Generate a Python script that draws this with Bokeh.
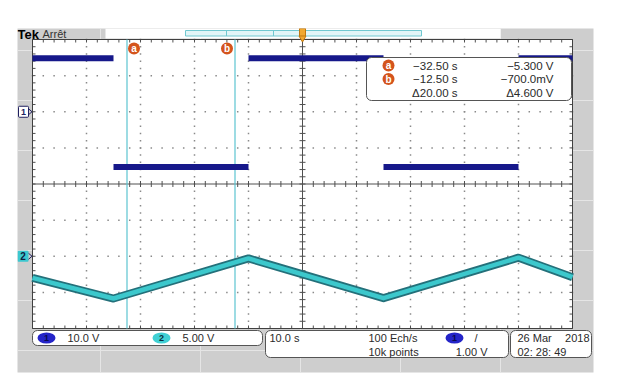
import numpy as np
from bokeh.plotting import figure
from bokeh.models import Range1d, Label, BoxAnnotation
from bokeh.embed import file_html
from bokeh.resources import INLINE

# ---------------- data ----------------
ch1_t_start = [-50, -35, -10, 15, 40]          # s
ch1_t_end = [-35, -10, 15, 40, 50]             # s
ch1_volts = [14.8, -15.3, 14.8, -15.3, 14.8]   # V

ch2_t = [-50, -35, -10, 15, 40, 50]            # s
ch2_volts = [-3.0, -5.85, -0.3, -5.8, -0.2, -2.9]  # V

cursor_t = [-32.5, -12.5]
cursor_names = ["a", "b"]
cursor_times = ["\u221232.50 s", "\u221212.50 s", "\u039420.00 s"]
cursor_values = ["\u22125.300 V", "\u2212700.0mV", "\u03944.600 V"]

ch1_scale, ch2_scale = 10.0, 5.0      # V/div
ch1_offset, ch2_offset = 2.0, -2.0    # div
t_half = 50.0                          # s (10 s/div, 10 div)
n_div_v = 4.0

# ---------------- screen geometry (image px) ----------------
FR_L, FR_R, FR_T, FR_B = 17, 593, 28, 372
GR_L, GR_R, GR_T, GR_B = 32, 572, 39, 328
W, H = 612, 384
px_s = (GR_R - GR_L) / (2 * t_half)
px_d = (GR_B - GR_T) / (2 * n_div_v)
t_start = -t_half - (GR_L - FR_L) / px_s
t_end = t_half + (FR_R - GR_R) / px_s
d_top = n_div_v + (GR_T - FR_T) / px_d
d_bot = -n_div_v - (FR_B - GR_B) / px_d

GRAY = "#cecece"
NAVY = "#16188a"
CYAN = "#3cc8cc"
TEAL = "#24707a"
CURS = "#5cc4d0"
ORANGE = "#d4541c"
TXT = "#2a2a2a"
FONT = "Liberation Sans"

p = figure(width=W, height=H,
           x_range=Range1d(FR_L, FR_R), y_range=Range1d(FR_B, FR_T),
           x_axis_location=None, y_axis_location=None,
           toolbar_location=None, output_backend="svg",
           min_border_left=FR_L, min_border_right=W - FR_R,
           min_border_top=FR_T, min_border_bottom=H - FR_B,
           background_fill_color=GRAY, border_fill_color="white",
           outline_line_color=None)
p.extra_x_ranges = {"time": Range1d(t_start, t_end)}
p.extra_y_ranges = {
    "div": Range1d(d_bot, d_top),
    "ch1": Range1d((d_bot - ch1_offset) * ch1_scale, (d_top - ch1_offset) * ch1_scale),
    "ch2": Range1d((d_bot - ch2_offset) * ch2_scale, (d_top - ch2_offset) * ch2_scale),
}
TD = dict(x_range_name="time", y_range_name="div")

# graticule background
p.quad(left=-t_half, right=t_half, bottom=-n_div_v, top=n_div_v,
       fill_color="white", line_color=None, **TD)

# top bar
p.quad(left=105, right=500, top=28, bottom=38, fill_color="white", line_color=None)
p.quad(left=185, right=421, top=30, bottom=35.5, fill_color="#e2f5f7",
       line_color="#70c8d0", line_width=1)
p.segment(x0=[226, 273], x1=[226, 273], y0=[30, 30], y1=[35.5, 35.5],
          line_color="#70c8d0", line_width=1)

# dotted grid
vt = [t for t in np.arange(-t_half + 10, t_half, 10) if abs(t) > 1e-6]
dd = np.arange(-n_div_v, n_div_v + 1e-6, 0.2)
hd = [d for d in np.arange(-n_div_v + 1, n_div_v, 1) if abs(d) > 1e-6]
tt = np.arange(-t_half, t_half + 1e-6, 2)
gx = np.concatenate([np.repeat(vt, len(dd)), np.tile(tt, len(hd))])
gy = np.concatenate([np.tile(dd, len(vt)), np.repeat(hd, len(tt))])
p.scatter(gx, gy, marker="square", size=1.5, color="#8a8a8a", line_color=None, **TD)

# ticks
tl_t = 3 / px_s
tl_d = 3 / px_d
x0 = np.concatenate([tt, tt, tt, np.full(len(dd), -t_half), np.full(len(dd), t_half), np.full(len(dd), -tl_t)])
x1 = np.concatenate([tt, tt, tt, np.full(len(dd), -t_half + tl_t), np.full(len(dd), t_half - tl_t), np.full(len(dd), tl_t)])
y0 = np.concatenate([np.full(len(tt), n_div_v), np.full(len(tt), -n_div_v), np.full(len(tt), -tl_d), dd, dd, dd])
y1 = np.concatenate([np.full(len(tt), n_div_v - tl_d), np.full(len(tt), -n_div_v + tl_d), np.full(len(tt), tl_d), dd, dd, dd])
p.segment(x0=x0, x1=x1, y0=y0, y1=y1, line_color="#505050", line_width=1, **TD)
p.segment(x0=[-t_half, 0], x1=[t_half, 0], y0=[0, -n_div_v], y1=[0, n_div_v],
          line_color="#505050", line_width=1, **TD)
p.quad(left=-t_half, right=t_half, bottom=-n_div_v, top=n_div_v,
       fill_color=None, line_color="#404040", line_width=1, **TD)

# cursors
p.segment(x0=cursor_t, x1=cursor_t, y0=[-n_div_v] * 2, y1=[n_div_v] * 2,
          line_color=CURS, line_width=1.2, **TD)

# traces
p.segment(x0=ch1_t_start, x1=ch1_t_end, y0=ch1_volts, y1=ch1_volts,
          line_color=NAVY, line_width=6, x_range_name="time", y_range_name="ch1")
p.line(ch2_t, ch2_volts, line_color=TEAL, line_width=8, line_join="round",
       x_range_name="time", y_range_name="ch2")
p.line(ch2_t, ch2_volts, line_color=CYAN, line_width=4.5, line_join="round",
       x_range_name="time", y_range_name="ch2")

# trigger marker
p.quad(left=299, right=305, top=28, bottom=36, fill_color="#f0a830", line_color="#c07810")
p.scatter([302], [37.5], marker="inverted_triangle", size=7, fill_color="#f0a830",
          line_color="#c07810")

# cursor label circles on graticule
lab_y = n_div_v - (48 - GR_T) / px_d
lab_x = [cursor_t[0] + 7 / px_s, cursor_t[1] - 8 / px_s]
p.scatter(lab_x, [lab_y] * 2, size=12, fill_color=ORANGE, line_color=None, **TD)
for xx, nm in zip(lab_x, cursor_names):
    p.add_layout(Label(x=xx, y=lab_y, text=nm, text_align="center", text_baseline="middle",
                       text_color="white", text_font=FONT, text_font_style="bold",
                       text_font_size="10px", **TD))

# boxes
def box(l, r, t, b, fill="white", line="#555555", rad=5):
    bx = BoxAnnotation(left=l, right=r, top=t, bottom=b, fill_color=fill, fill_alpha=1,
                       line_color=line, line_alpha=1 if line else 0, line_width=1,
                       border_radius=rad)
    p.add_layout(bx)

box(366, 571, 57, 100)
box(32, 262, 330, 345)
box(265, 508, 330, 357)
box(510, 591, 330, 357)

# channel ground markers
g1 = GR_T + (n_div_v - ch1_offset) * px_d
g2 = GR_T + (n_div_v - ch2_offset) * px_d
box(18, 28, g1 - 5.5, g1 + 5.5, fill="white", line="#202060", rad=1)
box(17, 28, g2 - 5.5, g2 + 5.5, fill="#3cc8d0", line=None, rad=1)
p.segment(x0=[28, 28], x1=[31.5, 31.5], y0=[g1 - 3, g1 + 3], y1=[g1, g1],
          line_color="#202060", line_width=1, level="overlay")
p.segment(x0=[28, 28], x1=[31.5, 31.5], y0=[g2 - 3, g2 + 3], y1=[g2, g2],
          line_color="#202060", line_width=1, level="overlay")

# overlay ellipses / circles
p.scatter([388, 388], [65, 78.5], size=12, fill_color=ORANGE, line_color=None, level="overlay")
p.ellipse(x=[46, 454], y=[337.5, 337.5], width=18, height=11, fill_color="#2424c8",
          line_color=None, level="overlay")
p.ellipse(x=[161], y=[337.5], width=18, height=11, fill_color="#40d0d4",
          line_color=None, level="overlay")


def lab(x, y, text, align="left", size="11px", color=TXT, style="normal", font=FONT):
    p.add_layout(Label(x=x, y=y, text=text, text_align=align, text_baseline="middle",
                       text_color=color, text_font=font, text_font_size=size,
                       text_font_style=style, level="overlay"))


lab(17, 33.5, "Tek", size="13px", color="black", style="bold")
lab(42, 33.5, "Arr\u00eat", size="11px", color="#333333")

lab(23, g1, "1", align="center", size="9px", color="#202060", style="bold")
lab(22.5, g2, "2", align="center", size="10px", color="#102040", style="bold")

rows = [65, 78.5, 92]
for nm, yy in zip(cursor_names, rows):
    lab(388, yy, nm, align="center", size="10px", color="white", style="bold")
for txt, yy in zip(cursor_times, rows):
    lab(457, yy, txt, align="right", size="11.5px")
for txt, yy in zip(cursor_values, rows):
    lab(553, yy, txt, align="right", size="11.5px")

lab(46, 337.5, "1", align="center", size="9px", color="#0a0a50", style="bold")
lab(67, 337.5, "10.0 V")
lab(161, 337.5, "2", align="center", size="9px", color="#0a3040", style="bold")
lab(182, 337.5, "5.00 V")

lab(269, 337.5, "10.0 s")
lab(368, 337.5, "100 Ech/s")
lab(368, 351, "10k points")
lab(454, 337.5, "1", align="center", size="9px", color="#0a0a50", style="bold")
lab(474, 337.5, "/")
lab(487, 351, "1.00 V", align="right")

lab(517, 337.5, "26 Mar")
lab(589, 337.5, "2018", align="right")
lab(517, 351, "02: 28: 49")

open("out.html", "w").write(file_html(p, INLINE))
